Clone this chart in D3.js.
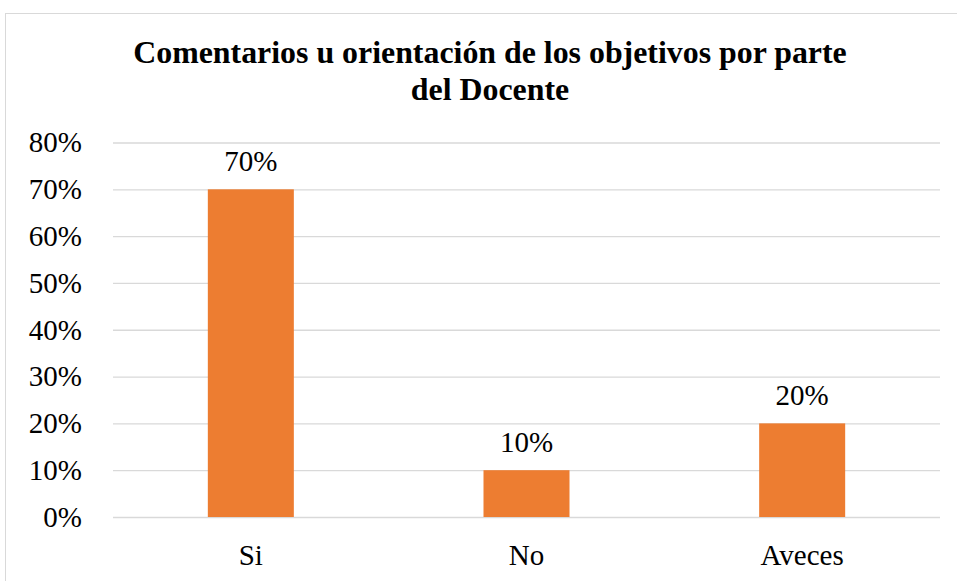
<!DOCTYPE html>
<html><head><meta charset="utf-8">
<script src="https://cdn.jsdelivr.net/npm/d3@7"></script>
<style>body{margin:0;background:#fff}svg{display:block}</style>
</head><body>
<script>
const categories = ["Si", "No", "Aveces"];
const values = [0.70, 0.10, 0.20];
const yTicks = [0, 0.1, 0.2, 0.3, 0.4, 0.5, 0.6, 0.7, 0.8];
const titleLines = ["Comentarios u orientación de los objetivos por parte", "del Docente"];

const W = 957, H = 581;
const familyParts = ["Liberation", "Serif"];
const FONT = `"${familyParts.join(" ")}"`;
const svg = d3.select("body").append("svg").attr("width", W).attr("height", H);

svg.append("rect").attr("x", 5.5).attr("y", 13.5).attr("width", W).attr("height", H)
  .attr("fill", "#fff").attr("stroke", "#d9d9d9").attr("stroke-width", 1);

const x = d3.scaleBand().domain(categories).range([113, 940]).paddingInner(0.688).paddingOuter(0.344);
const y = d3.scaleLinear().domain([0, 0.8]).range([517, 142.5]);

const yAxis = d3.axisLeft(y).tickValues(yTicks).tickFormat(d3.format(".0%")).tickSize(-(940 - 113)).tickPadding(31);
const gy = svg.append("g").attr("transform", "translate(113,0)").call(yAxis);
gy.select(".domain").remove();
gy.attr("font-family", null).attr("font-size", null);
gy.selectAll(".tick line").attr("stroke", "#d9d9d9").attr("stroke-width", 1.3);
gy.selectAll(".tick text").style("font-family", FONT).attr("font-size", 29).attr("fill", "#000");

svg.append("g").selectAll("rect").data(values).join("rect")
  .attr("x", (d, i) => x(categories[i])).attr("width", x.bandwidth())
  .attr("y", d => y(d)).attr("height", d => y(0) - y(d)).attr("fill", "#ed7d31");

svg.append("g").selectAll("text").data(values).join("text")
  .attr("x", (d, i) => x(categories[i]) + x.bandwidth() / 2).attr("y", d => y(d) - 18)
  .attr("text-anchor", "middle").style("font-family", FONT).attr("font-size", 29).attr("fill", "#000")
  .text(d => d3.format(".0%")(d));

const xAxis = d3.axisBottom(x).tickSize(0).tickPadding(0);
const gx = svg.append("g").attr("transform", "translate(0,517)").call(xAxis);
gx.select(".domain").remove();
gx.attr("font-family", null).attr("font-size", null);
gx.selectAll(".tick text").attr("y", 48).attr("dy", 0)
  .style("font-family", FONT).attr("font-size", 29).attr("fill", "#000");

const title = svg.append("g").selectAll("text").data(titleLines).join("text")
  .attr("x", 490).attr("y", (d, i) => 63 + i * 37)
  .attr("text-anchor", "middle").style("font-family", FONT).attr("font-weight", "bold").attr("font-size", 100)
  .attr("fill", "#000").text(d => d);
const w0 = title.nodes()[0].getComputedTextLength();
const fs = Math.max(20, Math.min(36, 100 * 714 / w0));
title.attr("font-size", fs);
</script>
</body></html>
